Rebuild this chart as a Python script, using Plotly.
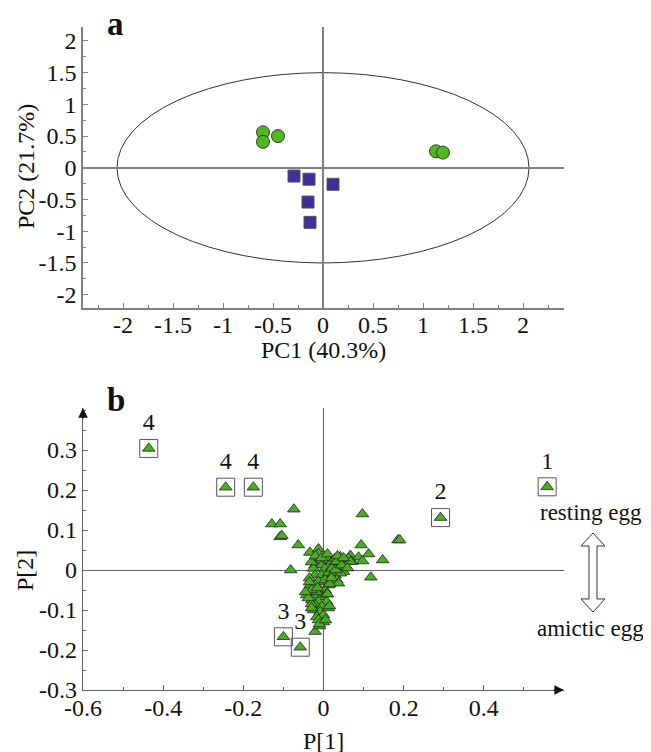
import plotly.graph_objects as go

# ---------------- Panel a : PCA scores ----------------
circle_x = [-0.60, -0.60, -0.45, 1.13, 1.20]
circle_y = [0.56, 0.41, 0.50, 0.26, 0.24]
square_x = [-0.29, -0.14, -0.15, -0.13, 0.10]
square_y = [-0.13, -0.18, -0.54, -0.86, -0.26]
ellipse_rx = 2.06   # Hotelling T2 ellipse semi-axes
ellipse_ry = 1.50

a_ticks = [-2, -1.5, -1, -0.5, 0, 0.5, 1, 1.5, 2]
a_ticktext = ["-2", "-1.5", "-1", "-0.5", "0", "0.5", "1", "1.5", "2"]

# ---------------- Panel b : loadings ----------------
load_x = [-0.074, -0.129, -0.108, -0.108, -0.104, -0.063, -0.034, -0.082,
          0.097, 0.094, 0.186, 0.190, 0.1475, 0.118, 0.067, 0.0875, 0.1125,
          0.0975, 0.071, -0.021,
          -0.0125, -0.0125, -0.0167, -0.008, -0.021, -0.004, -0.025, 0.004,
          0.0125, 0.021, 0.029, 0.042, 0.054, 0.0625, 0.067, 0.021, 0.0375,
          0.05, -0.021, -0.004, 0.0125, 0.029, -0.0125, 0.004, 0.0125,
          -0.033, -0.025, -0.008, 0.004, -0.042, -0.021, -0.004, -0.029,
          -0.0125, 0.008, -0.021, -0.004, -0.025, -0.008, -0.0167, 0.0,
          -0.0125, 0.021, 0.025, 0.042, 0.033, 0.0375, 0.054, 0.042, 0.033,
          -0.017, 0.008, -0.030, 0.015, -0.010, 0.012, -0.035, 0.000,
          -0.035, -0.030, -0.038, -0.045, -0.015, 0.010, 0.015, -0.030,
          -0.010, 0.005, 0.020, 0.030, 0.045, 0.060, -0.030, -0.020,
          -0.005, 0.010, 0.035, 0.050]
load_y = [0.152, 0.115, 0.115, 0.083, 0.086, 0.0625, 0.044, 0.0,
          0.140, 0.0625, 0.075, 0.075, 0.025, -0.018, 0.036, 0.032, 0.040,
          0.0225, 0.021, -0.154,
          0.0525, 0.041, 0.029, 0.025, 0.0125, 0.0125, 0.004, 0.004,
          0.025, 0.021, 0.029, 0.021, 0.0125, 0.029, 0.021, 0.008, 0.004,
          -0.004, -0.0125, -0.0125, -0.008, -0.0125, -0.029, -0.025, -0.0375,
          -0.0375, -0.046, -0.05, -0.05, -0.0625, -0.0625, -0.067, -0.075,
          -0.079, -0.079, -0.0875, -0.092, -0.10, -0.104, -0.117, -0.1125,
          -0.125, 0.004, -0.008, -0.008, -0.025, -0.033, 0.008, 0.033, 0.021,
          -0.055, -0.060, -0.085, -0.035, -0.140, -0.095, -0.020, -0.130,
          -0.030, -0.050, -0.070, -0.055, -0.045, -0.060, -0.090, -0.095,
          -0.135, -0.125, -0.020, 0.000, 0.012, 0.005, 0.020, 0.035,
          0.030, 0.040, 0.035, 0.030]

boxed_x = [-0.436, -0.244, -0.175, -0.100, -0.058, 0.292, 0.558]
boxed_y = [0.304, 0.207, 0.207, -0.167, -0.193, 0.131, 0.208]
boxed_labels = ["4", "4", "4", "3", "3", "2", "1"]

b_xticks = [-0.6, -0.4, -0.2, 0, 0.2, 0.4]
b_xticktext = ["-0.6", "-0.4", "-0.2", "0", "0.2", "0.4"]
b_yticks = [-0.3, -0.2, -0.1, 0, 0.1, 0.2, 0.3]
b_yticktext = ["-0.3", "-0.2", "-0.1", "0", "0.1", "0.2", "0.3"]

FONT = "Liberation Serif"
GREEN = "#4fb820"
BLUE = "#3f2f9e"
TRI = "#47ae1c"

fig = go.Figure()

fig.add_trace(go.Scatter(x=circle_x, y=circle_y, mode="markers", xaxis="x", yaxis="y",
                         marker=dict(symbol="circle", size=13, color=GREEN,
                                     line=dict(color="#3a3a3a", width=1)),
                         showlegend=False, cliponaxis=False))
fig.add_trace(go.Scatter(x=square_x, y=square_y, mode="markers", xaxis="x", yaxis="y",
                         marker=dict(symbol="square", size=12, color=BLUE,
                                     line=dict(color="#555", width=1)),
                         showlegend=False))

fig.add_trace(go.Scatter(x=load_x, y=load_y, mode="markers", xaxis="x2", yaxis="y2",
                         marker=dict(symbol="triangle-up", size=11, color=TRI,
                                     line=dict(color="#222", width=0.8)),
                         showlegend=False))
fig.add_trace(go.Scatter(x=boxed_x, y=boxed_y, mode="markers", xaxis="x2", yaxis="y2",
                         marker=dict(symbol="triangle-up", size=11, color=TRI,
                                     line=dict(color="#222", width=0.8)),
                         showlegend=False))
fig.add_trace(go.Scatter(x=boxed_x, y=boxed_y, mode="markers+text", xaxis="x2", yaxis="y2",
                         text=boxed_labels, textposition="top center",
                         textfont=dict(family=FONT, size=24, color="#111"),
                         marker=dict(symbol="square-open", size=18, color="#555",
                                     line=dict(color="#555", width=1)),
                         showlegend=False, cliponaxis=False))

axis_common = dict(showgrid=False, zeroline=True, showline=True, ticks="inside",
                   tickfont=dict(family=FONT, size=24, color="#111"),
                   tickmode="array")

# the page body adds an 8 px offset, so the figure is 8 px smaller than the window
fig.update_layout(
    width=643, height=744,
    margin=dict(l=75, r=87, t=19, b=62),
    paper_bgcolor="white", plot_bgcolor="white",
    font=dict(family=FONT, color="#111"),
    xaxis=dict(axis_common, domain=[0, 1], anchor="y", range=[-2.4, 2.41],
               tickvals=a_ticks, ticktext=a_ticktext, ticklabelstandoff=-6,
               zerolinecolor="#808080", zerolinewidth=1.5,
               linecolor="#808080", linewidth=1.5, tickcolor="#808080", ticklen=5,
               minor=dict(ticks="inside", dtick=0.25, tick0=0, ticklen=3, tickcolor="#808080")),
    yaxis=dict(axis_common, domain=[0.5762, 1], anchor="x", range=[-2.21, 2.22],
               tickvals=a_ticks, ticktext=a_ticktext,
               zerolinecolor="#808080", zerolinewidth=1.5,
               linecolor="#808080", linewidth=1.5, tickcolor="#808080", ticklen=5,
               minor=dict(ticks="inside", dtick=0.25, tick0=0, ticklen=3, tickcolor="#808080")),
    xaxis2=dict(axis_common, domain=[0, 1], anchor="y2", range=[-0.6, 0.6],
                tickvals=b_xticks, ticktext=b_xticktext, ticklabelstandoff=-4,
                zerolinecolor="#606060", zerolinewidth=1,
                linecolor="#606060", linewidth=1.2, tickcolor="#606060", ticklen=5,
                minor=dict(ticks="inside", dtick=0.1, tick0=0, ticklen=3, tickcolor="#606060")),
    yaxis2=dict(axis_common, domain=[0, 0.4253], anchor="x2", range=[-0.3, 0.405],
                tickvals=b_yticks, ticktext=b_yticktext,
                zerolinecolor="#606060", zerolinewidth=1,
                linecolor="#606060", linewidth=1.2, tickcolor="#606060", ticklen=5,
                minor=dict(ticks="inside", dtick=0.05, tick0=0, ticklen=3, tickcolor="#606060")),
)

# Ellipse (95% Hotelling T2)
fig.add_shape(type="circle", xref="x", yref="y",
              x0=-ellipse_rx, x1=ellipse_rx, y0=-ellipse_ry, y1=ellipse_ry,
              line=dict(color="#333", width=1), layer="below")

# Hollow double-headed arrow (paper coords; plot area 481 x 663 px)
def px2paper(px, py):
    return (px - 83) / 481.0, (690 - py) / 663.0

pts = [(593, 533), (605, 546), (597, 546), (597, 599), (605, 599), (593, 612),
       (581, 599), (589, 599), (589, 546), (581, 546)]
path = ""
for i, (px, py) in enumerate(pts):
    X, Y = px2paper(px, py)
    path += ("M" if i == 0 else "L") + f"{X:.4f},{Y:.4f} "
path += "Z"
fig.add_shape(type="path", xref="paper", yref="paper", path=path,
              line=dict(color="#333", width=1), fillcolor="white")

ann = []
# axis arrowheads for panel b
ann.append(dict(xref="x2", yref="y2", x=-0.6, y=0.405, ax=0, ay=12, text="",
                showarrow=True, arrowhead=2, arrowsize=1.6, arrowwidth=1.2,
                arrowcolor="#111"))
ann.append(dict(xref="x2", yref="y2", x=0.6, y=-0.3, ax=-12, ay=0, text="",
                showarrow=True, arrowhead=2, arrowsize=1.6, arrowwidth=1.2,
                arrowcolor="#111"))
# axis titles
tf = dict(family=FONT, size=24, color="#111")
sf = dict(family=FONT, size=23, color="#111")
ann += [
    dict(xref="paper", yref="paper", x=0.499, y=0.5128, text="PC1 (40.3%)",
         showarrow=False, font=tf, xanchor="center", yanchor="middle"),
    dict(xref="paper", yref="paper", x=-0.1185, y=0.7888, text="PC2 (21.7%)",
         showarrow=False, font=tf, xanchor="center", yanchor="middle", textangle=-90),
    dict(xref="paper", yref="paper", x=0.499, y=-0.0769, text="P[1]",
         showarrow=False, font=tf, xanchor="center", yanchor="middle"),
    dict(xref="paper", yref="paper", x=-0.1206, y=0.181, text="P[2]",
         showarrow=False, font=tf, xanchor="center", yanchor="middle", textangle=-90),
    dict(xref="paper", yref="paper", x=0.0686, y=1.0045, text="<b>a</b>",
         showarrow=False, font=dict(family=FONT, size=33, color="#111"),
         xanchor="center", yanchor="middle"),
    dict(xref="paper", yref="paper", x=0.0686, y=0.437, text="<b>b</b>",
         showarrow=False, font=dict(family=FONT, size=33, color="#111"),
         xanchor="center", yanchor="middle"),
    dict(xref="paper", yref="paper", x=1.0561, y=0.267, text="resting egg",
         showarrow=False, font=sf, xanchor="center", yanchor="middle"),
    dict(xref="paper", yref="paper", x=1.0561, y=0.0935, text="amictic egg",
         showarrow=False, font=sf, xanchor="center", yanchor="middle"),
]
fig.update_layout(annotations=ann)

fig.write_html("out.html")
